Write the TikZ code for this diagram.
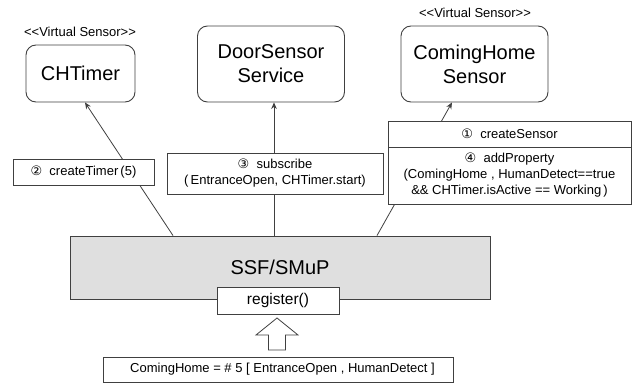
\documentclass[tikz,border=0pt]{standalone}
\usepackage{fontspec}
\setmainfont{Liberation Sans}
\newfontfamily\symf{DejaVu Sans}
\usetikzlibrary{arrows.meta}
\definecolor{lc}{HTML}{404040}
\definecolor{ssfgray}{HTML}{DFDFDF}
\newcommand\cnum[1]{{\symf #1}}
\newcommand\bigf{\fontsize{20}{24}\selectfont}
\newcommand\smallf{\fontsize{13}{16}\selectfont}
\newcommand\regf{\fontsize{15.5}{18}\selectfont}
\tikzset{
  box/.style={draw=lc, line width=0.9pt, fill=white, inner sep=0pt, align=center, font=\smallf},
  rbox/.style={box, rounded corners=10pt, font=\bigf},
  arr/.style={draw=lc, line width=0.8pt, -{Stealth[length=6.5pt,width=5.5pt]}},
  stereo/.style={inner sep=0pt, font=\smallf},
}
\begin{document}
\begin{tikzpicture}[x=1pt,y=-1pt]
\useasboundingbox (0,0) rectangle (640,383);
% main boxes
\node[rbox, minimum width=109pt, minimum height=57pt] (cht) at (80.5,73.5) {CHTimer};
\node[rbox, minimum width=147pt, minimum height=76pt] (ds) at (271,64) {DoorSensor\\Service};
\node[rbox, minimum width=147pt, minimum height=76pt] (chs) at (474.5,64) {ComingHome\\Sensor};
\node[stereo] (st1) at (80,32) {<{}<Virtual Sensor>{}>};
\node[stereo] (st2) at (475,13) {<{}<Virtual Sensor>{}>};
\node[box, fill=ssfgray, minimum width=420pt, minimum height=63pt, font=\bigf] (ssf) at (280,267.5) {SSF/SMuP};
% connectors
\draw[arr] ([xshift=-107pt]ssf.north) -- ([xshift=4.5pt]cht.south);
\draw[arr] ([xshift=-6pt]ssf.north) -- ([xshift=-6pt]ssf.north |- ds.south);
\draw[arr] ([xshift=97pt]ssf.north) -- ([xshift=-22.5pt]chs.south);
% labels on connectors
\node[box, minimum width=141pt, minimum height=26pt] (ct) at (83.5,172) {\cnum{②}\ \ createTimer\,(5)};
\node[box, minimum width=216pt, minimum height=41pt] (sub) at (275,173.5) {\cnum{③}\ \ subscribe\\(\,EntranceOpen, CHTimer.start)};
\node[box, minimum width=243pt, minimum height=26pt] (cs) at (509.5,134) {\cnum{①}\ \ createSensor};
\node[box, minimum width=243pt, minimum height=57pt] (ap) at (509.5,175.5) {\cnum{④}\ \ addProperty\\(ComingHome , HumanDetect==true\\\&\& CHTimer.isActive == Working\,)};
% register
\node[box, minimum width=122pt, minimum height=27pt, font=\regf] (reg) at (278,300.5) {register()};
\node[box, minimum width=350pt, minimum height=25pt] (chd) at (278,369.5) {\hspace*{9pt}ComingHome = \# 5 [ EntranceOpen , HumanDetect ]};
% hollow arrow
\draw[draw=lc, line width=0.8pt, fill=white, line join=miter]
  (277,318) -- (298,335) -- (285.5,335) -- (285.5,350) -- (268.5,350) -- (268.5,335) -- (256,335) -- cycle;
\end{tikzpicture}
\end{document}
